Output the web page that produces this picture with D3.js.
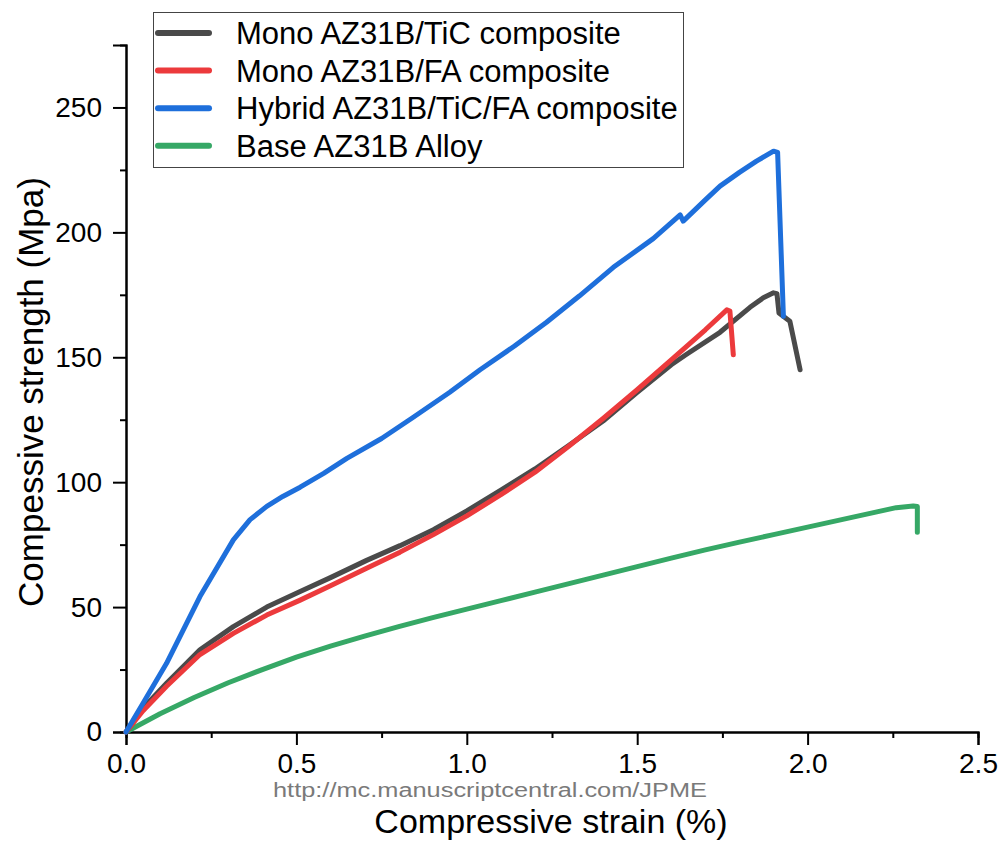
<!DOCTYPE html>
<html><head><meta charset="utf-8">
<script src="https://cdn.jsdelivr.net/npm/d3@7"></script>
<style>body{margin:0;background:#fff;} svg{display:block;}</style>
</head><body>
<svg id="c" width="1001" height="841"></svg>
<script>
const seriesNames = ["Mono AZ31B/TiC composite","Mono AZ31B/FA composite","Hybrid AZ31B/TiC/FA composite","Base AZ31B Alloy"];
const seriesColors = ["#4a4a4a","#ec3a3c","#1e6fdb","#36a866"];

const ticStrain = [0,0.05,0.119,0.217,0.315,0.413,0.511,0.6,0.706,0.804,0.902,1.0,1.1,1.2,1.3,1.4,1.5,1.6,1.645,1.743,1.831,1.87,1.9,1.91,1.916,1.948,1.978];
const ticStress = [0,9.5,19.5,32.9,42.2,50,56.2,61.8,68.7,74.6,81,88.5,96.8,105.3,114.8,124.5,136,147,151.2,160,170,173.8,175.8,175.5,167.7,164.4,145];

const faStrain = [0,0.05,0.119,0.217,0.315,0.413,0.511,0.6,0.706,0.804,0.902,1.0,1.1,1.2,1.3,1.4,1.5,1.6,1.7,1.763,1.772,1.782];
const faStress = [0,8.5,18.3,31,39.5,46.8,52.8,58.5,65.5,72,79,86.5,95,104,114.5,125.5,137,149,161,169,168.5,151];

const hybStrain = [0,0.05,0.119,0.217,0.315,0.364,0.413,0.46,0.511,0.58,0.648,0.75,0.843,0.95,1.039,1.14,1.234,1.33,1.43,1.547,1.626,1.635,1.7,1.743,1.8,1.85,1.9,1.912,1.929];
const hybStress = [0,11.5,27.5,54.2,76.9,85,90.3,94.3,98,103.5,109.5,117.5,126,136,145,154.5,164,174.5,186,197.5,207,204.5,213,218.5,224,228.5,232.5,232,166.4];

const baseStrain = [0,0.1,0.2,0.3,0.4,0.5,0.6,0.7,0.8,0.9,1.0,1.1,1.2,1.3,1.4,1.5,1.6,1.7,1.8,1.9,2.0,2.1,2.2,2.26,2.31,2.322,2.322];
const baseStress = [0,7.3,13.8,19.7,25,30,34.4,38.4,42.2,45.8,49.2,52.6,56,59.4,62.8,66.2,69.6,72.9,76,79,82,85,88,89.8,90.5,90.3,80];

const xTicks = [0,0.5,1.0,1.5,2.0,2.5];
const yTicks = [0,50,100,150,200,250];

const svg = d3.select("#c");
const L=126, R=978, T=45, B=732;
const x = d3.scaleLinear().domain([0,2.5]).range([L,R]);
const y = d3.scaleLinear().domain([0,275]).range([B,T]);
const font = "'Liberation Sans', Arial, sans-serif";

const xAxis = d3.axisBottom(x).tickValues(xTicks).tickFormat(d3.format(".1f")).tickSize(13).tickPadding(8);
const xMinor = d3.axisBottom(x).tickValues(d3.range(0.25,2.5,0.5)).tickFormat("").tickSize(6);
const yAxis = d3.axisLeft(y).tickValues(yTicks).tickFormat(d3.format("d")).tickSize(13).tickPadding(11);
const yMinor = d3.axisLeft(y).tickValues(d3.range(25,275,50)).tickFormat("").tickSize(6);

function style(g){
  g.select(".domain").attr("stroke","#000").attr("stroke-width",2);
  g.selectAll(".tick line").attr("stroke","#000").attr("stroke-width",2);
  g.selectAll(".tick text").attr("font-family",font).attr("font-size",28).attr("fill","#000");
}
svg.append("g").attr("transform",`translate(0,${B})`).call(xMinor).call(style);
svg.append("g").attr("transform",`translate(0,${B})`).call(xAxis).call(style);
svg.append("g").attr("transform",`translate(${L},0)`).call(yMinor).call(style);
svg.append("g").attr("transform",`translate(${L},0)`).call(yAxis).call(style);

const line = d3.line().x(d=>x(d[0])).y(d=>y(d[1]));
const sets = [
  [baseStrain, baseStress, 3],
  [ticStrain, ticStress, 0],
  [faStrain, faStress, 1],
  [hybStrain, hybStress, 2]
];
sets.forEach(([xs,ys,ci])=>{
  svg.append("path").datum(xs.map((v,i)=>[v,ys[i]]))
    .attr("d",line).attr("fill","none").attr("stroke",seriesColors[ci])
    .attr("stroke-width",5).attr("stroke-linejoin","round").attr("stroke-linecap","round");
});

const lg = svg.append("g");
lg.append("rect").attr("x",153.5).attr("y",12.5).attr("width",530).attr("height",155)
  .attr("fill","#fff").attr("stroke","#444").attr("stroke-width",1);
seriesNames.forEach((n,i)=>{
  const cy = 33 + i*37.6;
  lg.append("line").attr("x1",158).attr("x2",209).attr("y1",cy).attr("y2",cy)
    .attr("stroke",seriesColors[i]).attr("stroke-width",6).attr("stroke-linecap","round");
  lg.append("text").attr("x",236).attr("y",cy).attr("dy","0.36em").text(n)
    .attr("font-family",font).attr("font-size",31).attr("fill","#000");
});

svg.append("text").attr("x",551).attr("y",833).attr("text-anchor","middle")
  .attr("font-family",font).attr("font-size",34).attr("fill","#000").text("Compressive strain (%)");
svg.append("text").attr("transform","translate(43,392) rotate(-90)").attr("text-anchor","middle")
  .attr("font-family",font).attr("font-size",35).attr("fill","#000").text("Compessive strength (Mpa)");
svg.append("text").attr("x",273).attr("y",797).attr("textLength",434).attr("lengthAdjust","spacingAndGlyphs")
  .attr("font-family","'Liberation Sans Narrow','Liberation Sans',sans-serif").attr("font-size",20).attr("fill","#7a7a7a")
  .text("http://mc.manuscriptcentral.com/JPME");
</script>
</body></html>
